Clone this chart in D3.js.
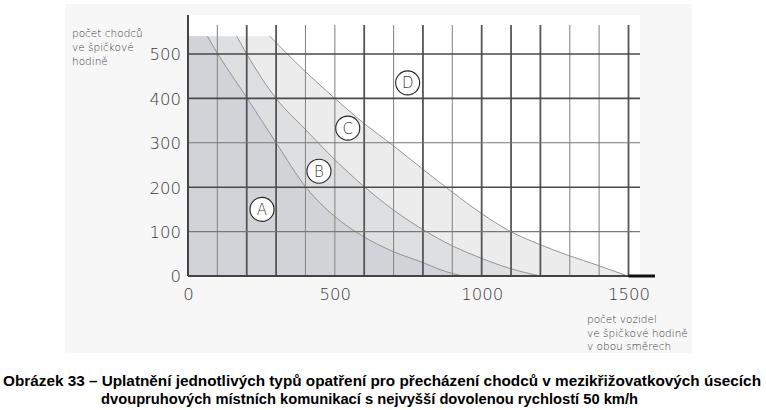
<!DOCTYPE html>
<html><head><meta charset="utf-8">
<script src="https://cdn.jsdelivr.net/npm/d3@7"></script>
<style>
html,body{margin:0;padding:0;background:#fff;}
svg{display:block;}
.cad{font-family:"DejaVu Sans",sans-serif;font-weight:200;fill:#3a3a3a;}
.cap{font-family:"Liberation Sans",Arial,sans-serif;font-weight:bold;fill:#000;}
</style></head>
<body>
<script>
// ---- data ----
const xTicks = [0, 500, 1000, 1500];
const yTicks = [0, 100, 200, 300, 400, 500];
const xGrid = [0,100,200,300,400,500,600,700,800,900,1000,1100,1200,1300,1400,1500];
const xGridMajor = [0,200,300,600,800,1000,1100,1200,1500];
const yGridMajor = [0,200,400,500];
const topLevel = 540;
// boundary curves [vehicles, pedestrians]
const curveAB = [[66,540],[100,502],[202,400],[300,300],[404,198],[500,134],[597,89],[699,55],[801,30],[860,14],[935,0]];
const curveBC = [[166,540],[200,500],[300,400],[400,330],[500,262],[597,203],[699,149],[801,104],[900,68],[999,40],[1096,17],[1200,0]];
const curveCD = [[279,540],[338,500],[500,400],[597,345],[700,293],[801,240],[900,189],[999,141],[1096,101],[1194,72],[1297,46],[1396,24],[1497,0]];
const zoneLabels = ["A","B","C","D"];
const zonePos = [[252,150],[446,236],[544,333],[748,435]];
const yTitle = ["počet chodců","ve špičkové","hodině"];
const xTitle = ["počet vozidel","ve špičkové hodině","v obou směrech"];
const caption1 = "Obrázek 33 – Uplatnění jednotlivých typů opatření pro přecházení chodců v mezikřižovatkových úsecích";
const caption2 = "dvoupruhových místních komunikací s nejvyšší dovolenou rychlostí 50 km/h";

const W = 766, H = 410;
const svg = d3.select("body").append("svg").attr("width", W).attr("height", H);

const x = d3.scaleLinear().domain([0,1500]).range([188, 628.5]);
const y = d3.scaleLinear().domain([0,500]).range([276, 54]);

// panel
svg.append("rect").attr("x",65).attr("y",4).attr("width",627).attr("height",349).attr("fill","#f7f7f7");
svg.append("rect").attr("x",x(0)).attr("y",15).attr("width",640-x(0)).attr("height",y(0)-15).attr("fill","#ffffff");

// zones
const smooth = d3.line().x(d=>x(d[0])).y(d=>y(d[1])).curve(d3.curveMonotoneX);
function area(curve){
  return "M"+x(0)+","+y(0)+"L"+x(0)+","+y(topLevel)+"L"+ smooth(curve).slice(1) + "Z";
}
svg.append("path").attr("d", area(curveCD)).attr("fill","#ececec");
svg.append("path").attr("d", area(curveBC)).attr("fill","#dedfe1");
svg.append("path").attr("d", area(curveAB)).attr("fill","#d0d3d7");

// boundary lines
[curveAB, curveBC, curveCD].forEach(c=>{
  svg.append("path").attr("d", smooth(c)).attr("fill","none").attr("stroke","#8a8a8a").attr("stroke-width",0.9);
});

// grid verticals
xGrid.forEach(v=>{
  const major = xGridMajor.includes(v);
  if (v===0) return;
  svg.append("line").attr("x1",x(v)).attr("x2",x(v)).attr("y1",25).attr("y2",y(0))
    .attr("stroke", major?"#555":"#8a8a8a").attr("stroke-width", major?1.8:1.1);
});
// grid horizontals
yTicks.forEach(v=>{
  if (v===0) return;
  const major = yGridMajor.includes(v);
  svg.append("line").attr("x1",x(0)).attr("x2",640).attr("y1",y(v)).attr("y2",y(v))
    .attr("stroke", major?"#4a4a4a":"#777").attr("stroke-width", major?1.6:1.1);
});
// axes
svg.append("line").attr("x1",x(0)).attr("x2",x(0)).attr("y1",15).attr("y2",y(0)).attr("stroke","#444").attr("stroke-width",2);
svg.append("line").attr("x1",x(0)).attr("x2",655).attr("y1",y(0)).attr("y2",y(0)).attr("stroke","#444").attr("stroke-width",2);
svg.append("line").attr("x1",x(1500)).attr("x2",655).attr("y1",y(0)).attr("y2",y(0)).attr("stroke","#111").attr("stroke-width",3);

// tick labels via axes
const yAx = svg.append("g").attr("transform","translate(181,0)")
  .call(d3.axisLeft(y).tickValues(yTicks).tickSize(0).tickPadding(0).tickFormat(d3.format("d")));
yAx.select(".domain").remove();
yAx.selectAll("text").attr("class","cad").attr("font-size",16.5).attr("text-anchor","end").attr("dy","0.36em");
yAx.attr("font-family",null).attr("font-size",null);

const xAx = svg.append("g").attr("transform","translate(0,288)")
  .call(d3.axisBottom(x).tickValues(xTicks).tickSize(0).tickPadding(0).tickFormat(d3.format("d")));
xAx.select(".domain").remove();
xAx.selectAll("text").attr("class","cad").attr("font-size",16.5).attr("dy","0.71em");
xAx.attr("font-family",null).attr("font-size",null);

// titles
yTitle.forEach((t,i)=>{
  svg.append("text").attr("class","cad").attr("x",72).attr("y",37+i*14).attr("font-size",10.5).text(t);
});
xTitle.forEach((t,i)=>{
  svg.append("text").attr("class","cad").attr("x",587).attr("y",323+i*13.5).attr("font-size",10.5).text(t);
});

// zone labels
zoneLabels.forEach((l,i)=>{
  const p = zonePos[i];
  svg.append("circle").attr("cx",x(p[0])).attr("cy",y(p[1])).attr("r",12)
    .attr("fill","#fff").attr("stroke","#222").attr("stroke-width",1.1);
  svg.append("text").attr("class","cad").attr("x",x(p[0])).attr("y",y(p[1])).attr("dy","0.36em")
    .attr("text-anchor","middle").attr("font-size",15).attr("fill","#222").text(l);
});

// caption
svg.append("text").attr("class","cap").attr("x",3).attr("y",386).attr("font-size",14.5)
  .attr("textLength",758).attr("lengthAdjust","spacingAndGlyphs").text(caption1);
svg.append("text").attr("class","cap").attr("x",101).attr("y",404).attr("font-size",14.5)
  .attr("textLength",537).attr("lengthAdjust","spacingAndGlyphs").text(caption2);
</script>
</body></html>
